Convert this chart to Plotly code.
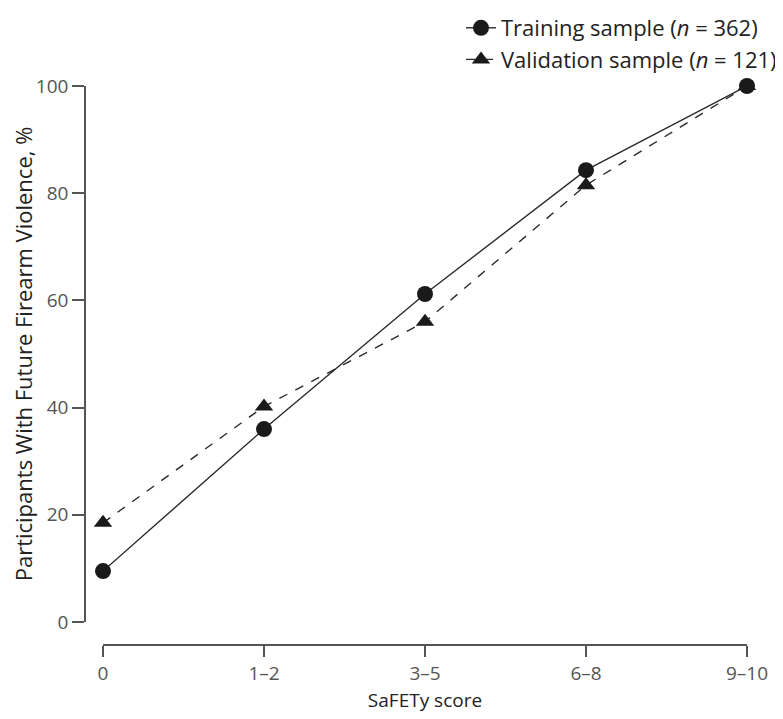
import plotly.graph_objects as go

categories = ["0", "1\u20132", "3\u20135", "6\u20138", "9\u201310"]
training = [9.5, 36, 61.2, 84.3, 100]
validation = [18.5, 40.2, 56, 81.5, 100]
y_ticks = [0, 20, 40, 60, 80, 100]

xpos = list(range(len(categories)))
dark = "#1a1a1a"
grey = "#555555"

fig = go.Figure()
fig.add_trace(go.Scatter(
    x=xpos, y=training, mode="lines+markers",
    name="Training sample (<i>n</i> = 362)",
    line=dict(color="#2a2a2a", width=1.4, dash="solid"),
    marker=dict(symbol="circle", size=16, color=dark),
    cliponaxis=False,
))
fig.add_trace(go.Scatter(
    x=xpos, y=validation, mode="lines+markers",
    name="Validation sample (<i>n</i> = 121)",
    line=dict(color="#2a2a2a", width=1.4, dash="dash"),
    marker=dict(symbol="triangle-up", size=16, color=dark),
    cliponaxis=False,
))

# page body adds an 8px offset; figure coordinates = screen - 8
OFF = 8
W, H = 783 - OFF, 719 - OFF
ax_left, ax_right = 85 - OFF, 747 - OFF
ax_top, ax_bottom = 86 - OFF, 645 - OFF
y0_pix = 622 - OFF
x0_pix = 103 - OFF
ml, mr, mt, mb = ax_left, W - ax_right, ax_top, H - ax_bottom
pw = W - ml - mr
ph = H - mt - mb

fig.update_layout(
    width=W, height=H,
    margin=dict(l=ml, r=mr, t=mt, b=mb, autoexpand=False),
    paper_bgcolor="white", plot_bgcolor="white",
    font=dict(family="Open Sans", color=grey, size=18),
    showlegend=True,
    legend=dict(
        x=1 + (W - 1 - ax_right) / pw, xanchor="right",
        y=1 + (ax_top + 1) / ph, yanchor="top",
        font=dict(size=22, color="#222222"),
        bgcolor="rgba(0,0,0,0)",
        tracegroupgap=0, itemwidth=30,
    ),
    xaxis=dict(
        domain=[(x0_pix - ax_left) / pw, 1],
        range=[0, 4],
        tickvals=xpos, ticktext=categories,
        anchor="free", position=0,
        showline=True, linecolor=grey, linewidth=1.5,
        ticks="outside", ticklen=11, tickcolor=grey, tickwidth=1.5,
        showgrid=False, zeroline=False,
        tickfont=dict(size=19, color=grey),
        title=dict(text="SaFETy score", font=dict(size=19, color="#222222"), standoff=8),
    ),
    yaxis=dict(
        domain=[(ax_bottom - y0_pix) / ph, 1],
        range=[0, 100],
        tickvals=y_ticks,
        anchor="free", position=0,
        showline=True, linecolor=grey, linewidth=1.5,
        ticks="outside", ticklen=12, tickcolor=grey, tickwidth=1.5,
        showgrid=False, zeroline=False,
        tickfont=dict(size=19, color=grey),
        title=dict(text="Participants With Future Firearm Violence, %",
                   font=dict(size=22, color="#222222"), standoff=2),
    ),
)

fig.write_html("out.html")
